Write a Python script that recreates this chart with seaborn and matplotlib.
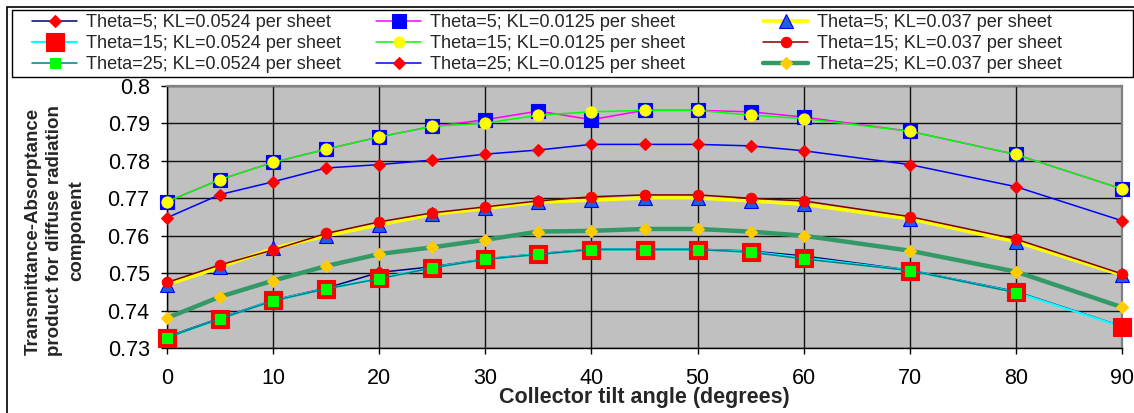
import numpy as np
import pandas as pd
import matplotlib
matplotlib.use("Agg")
import matplotlib.pyplot as plt
from matplotlib.patches import Rectangle
from matplotlib.lines import Line2D
import seaborn as sns

# ---------------- data ----------------
tilt = [0, 5, 10, 15, 20, 25, 30, 35, 40, 45, 50, 55, 60, 70, 80, 90]

t5_kl0524 = [0.7330, 0.7380, 0.7428, 0.7460, 0.7502, 0.7517, 0.7538, 0.7552,
             0.7564, 0.7564, 0.7564, 0.7559, 0.7546, 0.7508, 0.7451, 0.7358]
t5_kl0125 = [0.7691, 0.7750, 0.7796, 0.7831, 0.7864, 0.7892, 0.7910, 0.7933,
             0.7910, 0.7935, 0.7935, 0.7931, 0.7917, 0.7879, 0.7817, 0.7725]
t5_kl037 = [0.7469, 0.7516, 0.7566, 0.7600, 0.7629, 0.7657, 0.7673, 0.7690,
            0.7695, 0.7701, 0.7701, 0.7693, 0.7684, 0.7645, 0.7584, 0.7495]
t15_kl0524 = [0.7328, 0.7378, 0.7427, 0.7458, 0.7486, 0.7515, 0.7537, 0.7551,
              0.7563, 0.7563, 0.7563, 0.7557, 0.7541, 0.7507, 0.7449, 0.7357]
t15_kl0125 = [0.7691, 0.7750, 0.7796, 0.7831, 0.7864, 0.7892, 0.7901, 0.7922,
              0.7931, 0.7935, 0.7935, 0.7922, 0.7913, 0.7879, 0.7817, 0.7725]
t15_kl037 = [0.7475, 0.7522, 0.7562, 0.7606, 0.7637, 0.7661, 0.7677, 0.7693,
             0.7704, 0.7709, 0.7709, 0.7700, 0.7693, 0.7651, 0.7591, 0.7498]
t25_kl0524 = [0.7328, 0.7378, 0.7426, 0.7458, 0.7485, 0.7514, 0.7537, 0.7550,
              0.7563, 0.7563, 0.7563, 0.7556, 0.7538, 0.7507, 0.7448, np.nan]
t25_kl0125 = [0.7648, 0.7710, 0.7744, 0.7781, 0.7790, 0.7802, 0.7818, 0.7829,
              0.7844, 0.7844, 0.7844, 0.7840, 0.7827, 0.7790, 0.7731, 0.7640]
t25_kl037 = [0.7380, 0.7437, 0.7480, 0.7519, 0.7551, 0.7569, 0.7589, 0.7611,
             0.7613, 0.7618, 0.7618, 0.7611, 0.7600, 0.7560, 0.7504, 0.7409]

labels = ["Theta=5; KL=0.0524 per sheet", "Theta=5; KL=0.0125 per sheet",
          "Theta=5; KL=0.037 per sheet", "Theta=15; KL=0.0524 per sheet",
          "Theta=15; KL=0.0125 per sheet", "Theta=15; KL=0.037 per sheet",
          "Theta=25; KL=0.0524 per sheet", "Theta=25; KL=0.0125 per sheet",
          "Theta=25; KL=0.037 per sheet"]

y_ticks = [0.73, 0.74, 0.75, 0.76, 0.77, 0.78, 0.79, 0.80]
y_tick_labels = ["0.73", "0.74", "0.75", "0.76", "0.77", "0.78", "0.79", "0.8"]
x_ticks = [0, 10, 20, 30, 40, 50, 60, 70, 80, 90]

x_title = "Collector tilt angle (degrees)"
y_title = "Transmittance-Absorptance\nproduct for diffuse radiation\ncomponent"

series = [t5_kl0524, t5_kl0125, t5_kl037, t15_kl0524, t15_kl0125, t15_kl037,
          t25_kl0524, t25_kl0125, t25_kl037]

# styles: (line color, lw, marker, ms, face, edge)
styles = [
    ("#000080", 1.1, "D", 6.5, "#FF0000", "#FF0000"),
    ("#FF00FF", 1.1, "s", 10, "#0000FF", "#0000FF"),
    ("#FFFF00", 2.6, "^", 9.5, "#2060E0", "#0000FF"),
    ("#00FFFF", 1.6, "s", 12.5, "#FF0000", "#FF0000"),
    ("#00FF00", 1.1, "o", 8, "#FFFF00", "#FFFF00"),
    ("#800000", 1.1, "o", 7.5, "#FF0000", "#FF0000"),
    ("#008080", 1.1, "s", 6.5, "#00FF00", "#00FF00"),
    ("#0000FF", 1.1, "D", 6.5, "#FF0000", "#FF0000"),
    ("#339966", 3.2, "D", 6.5, "#FFCC00", "#FFCC00"),
]

# ---------------- figure ----------------
sns.set_style("white")
plt.rcParams["font.family"] = ["Liberation Sans", "DejaVu Sans"]

W, H = 1134, 413
fig = plt.figure(figsize=(W / 100, H / 100), dpi=100)
fig.patch.set_facecolor("white")

ax = fig.add_axes([167 / W, 1 - 348 / H, (1122 - 167) / W, (348 - 86) / H])
ax.set_facecolor("#C0C0C0")

handles = []
for vals, lab, (lc, lw, mk, ms, fc, ec) in zip(series, labels, styles):
    df = pd.DataFrame({"tilt": tilt, "val": vals}).dropna()
    sns.lineplot(data=df, x="tilt", y="val", ax=ax, color=lc, linewidth=lw,
                 marker=mk, markersize=ms, markerfacecolor=fc,
                 markeredgecolor=ec, markeredgewidth=0.8, clip_on=False,
                 zorder=3, legend=False, estimator=None)
    handles.append(Line2D([], [], color=lc, linewidth=lw, marker=mk,
                          markersize=ms, markerfacecolor=fc,
                          markeredgecolor=ec, markeredgewidth=0.8))

ax.set_xlim(0, 90)
ax.set_ylim(0.73, 0.80)
ax.set_xticks(x_ticks)
ax.set_xticklabels([str(v) for v in x_ticks])
ax.set_yticks(y_ticks)
ax.set_yticklabels(y_tick_labels)
ax.grid(True, color="#111111", linewidth=1.0, zorder=1)
ax.set_axisbelow(True)
ax.tick_params(axis="both", direction="out", length=4.5, width=1.0,
               color="black", labelsize=15.5, labelcolor="black")
ax.tick_params(axis="x", pad=10)
ax.tick_params(axis="y", pad=8)
ax.tick_params(left=True, bottom=True)
for s in ["left", "bottom"]:
    ax.spines[s].set_color("black")
    ax.spines[s].set_linewidth(1.0)
for s in ["top", "right"]:
    ax.spines[s].set_color("#808080")
    ax.spines[s].set_linewidth(1.6)
ax.set_xlabel("")
ax.set_ylabel("")

fig.text(644.5 / W, 1 - 397.5 / H, x_title, ha="center", va="center",
         fontsize=15.5, fontweight="bold")
fig.text(55 / W, 1 - 231 / H, y_title, ha="center", va="center",
         rotation=90, fontsize=13.5, fontweight="bold", linespacing=1.4,
         multialignment="center")

# outer chart frame and legend box
fig.patches.append(Rectangle((7 / W, -0.1), 2, 1.1 - 7 / H,
                             transform=fig.transFigure, fill=False,
                             edgecolor="black", linewidth=1.2))
fig.patches.append(Rectangle((12 / W, 1 - 77 / H), (1133 - 12) / W,
                             (77 - 10) / H, transform=fig.transFigure,
                             fill=False, edgecolor="black", linewidth=1.0))

# legend in three columns (row-major like the original)
col_x = [32, 376, 763]
for c in range(3):
    idx = [c, c + 3, c + 6]
    fig.legend([handles[i] for i in idx], [labels[i] for i in idx],
               loc="upper left", bbox_to_anchor=(col_x[c] / W, 1 - 14 / H),
               frameon=False, fontsize=13.1, handlelength=2.5,
               handletextpad=0.45, labelspacing=0.22, borderpad=0,
               borderaxespad=0)

fig.savefig("out.png", dpi=100)
